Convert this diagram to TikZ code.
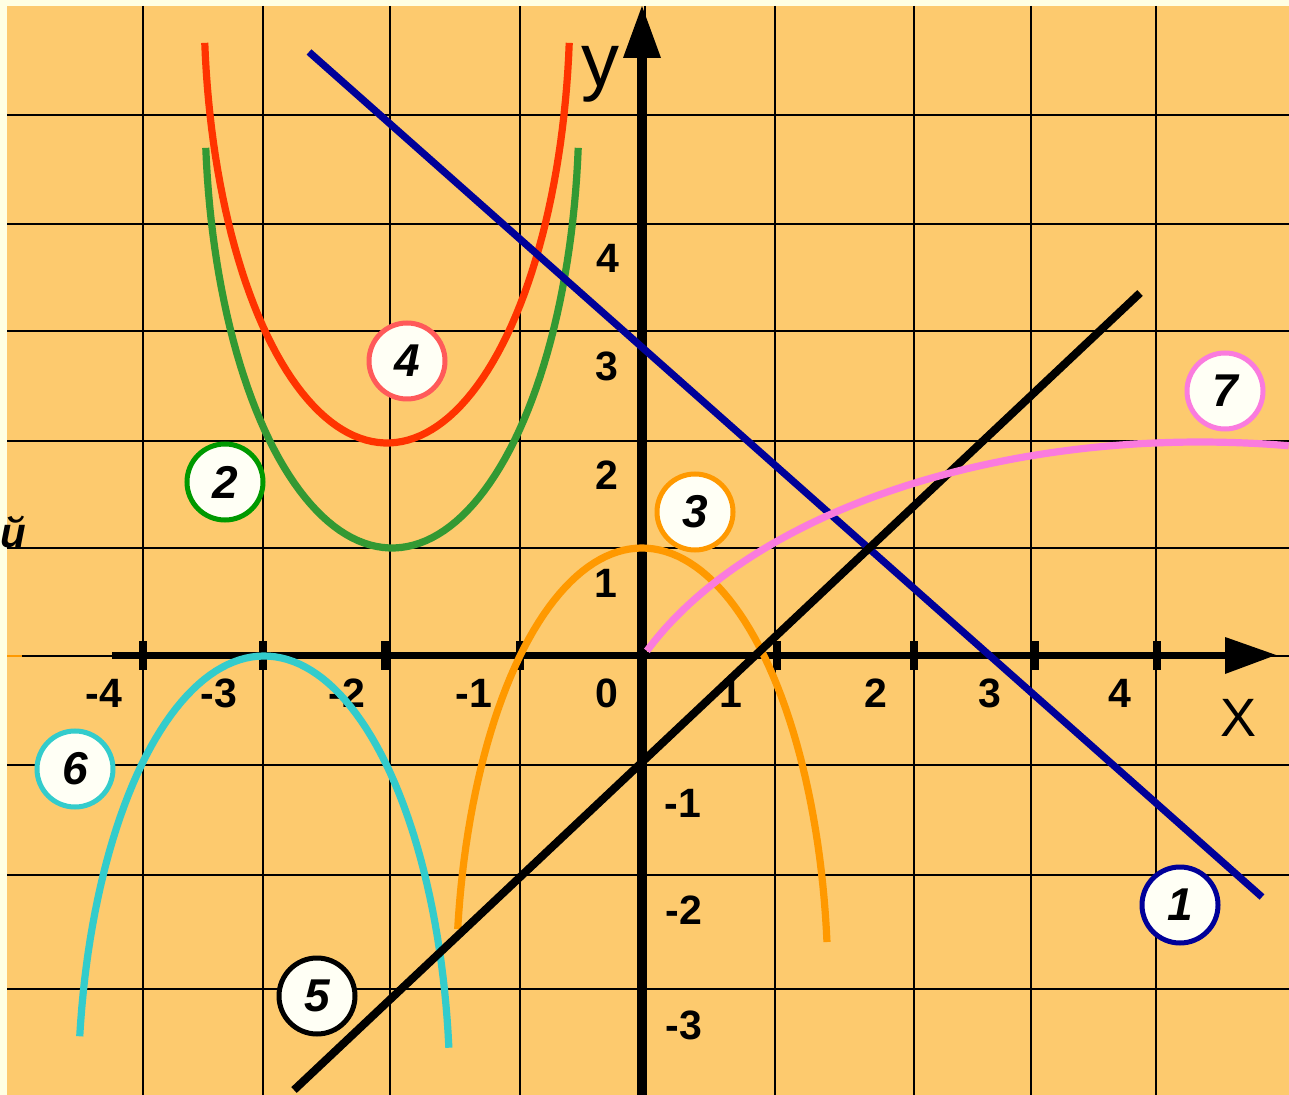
\documentclass[tikz,border=0pt]{standalone}
\usepackage{fontspec}
\setmainfont{Liberation Sans}
\definecolor{cream}{HTML}{FFFFE3}
\definecolor{panel}{HTML}{FDCA6E}
\definecolor{navyc}{HTML}{000099}
\definecolor{redc}{HTML}{FF3300}
\definecolor{greenc}{HTML}{339933}
\definecolor{greenb}{HTML}{009900}
\definecolor{orangec}{HTML}{FF9900}
\definecolor{cyanc}{HTML}{33CCCC}
\definecolor{pinkc}{HTML}{FA7BDE}
\definecolor{redb}{HTML}{FF5A5A}
\definecolor{circfill}{HTML}{FFFFF5}
\begin{document}
\begin{tikzpicture}[x=0.5pt,y=-0.5pt,
  gridline/.style={black, line width=1.3pt},
  curve/.style={line width=3.6pt},
  axlab/.style={inner sep=0pt, font=\fontsize{20.5}{23}\selectfont\bfseries},
  tag/.style={circle, draw=#1, fill=circfill, line width=2.5pt, minimum size=38pt, inner sep=0pt, font=\fontsize{23}{26}\selectfont\bfseries\itshape},
  tickmark/.style={fill=black}]
\useasboundingbox (0,0) rectangle (1289,1095);
\fill[cream] (0,0) rectangle (1289,1095);
\fill[panel] (7,6) rectangle (1289,1095);
% grid
\foreach \gx in {143,263,390,520,645,775,914,1031,1156}
  \draw[gridline] (\gx,6) -- (\gx,1095);
\foreach \gy in {115,224,331,441,548,765,875,989}
  \draw[gridline] (7,\gy) -- (1289,\gy);
\draw[gridline] (22,656) -- (1289,656);
\draw[orangec, line width=1.3pt] (7,656) -- (22,656);
% cyrillic remnant
\node[anchor=base west, inner sep=0pt, font=\fontsize{21}{24}\selectfont\bfseries\itshape] (cyr) at (0,548) {й};
% axis labels
\node[axlab] (xm4) at (104,693) {-4};
\node[axlab] (xm3) at (219,693) {-3};
\node[axlab] (xm2) at (347,693) {-2};
\node[axlab] (xm1) at (474,693) {-1};
\node[axlab] (x0) at (607,693) {0};
\node[axlab] (x1) at (731,693) {1};
\node[axlab] (x2) at (876,693) {2};
\node[axlab] (x3) at (990,693) {3};
\node[axlab] (x4) at (1120,693) {4};
\node[axlab] (y4) at (608,258) {4};
\node[axlab] (y3) at (607,366) {3};
\node[axlab] (y2) at (607,475) {2};
\node[axlab] (y1) at (606,583) {1};
\node[axlab] (ym1) at (683,803) {-1};
\node[axlab] (ym2) at (684,910) {-2};
\node[axlab] (ym3) at (684,1025) {-3};
\node[inner sep=0pt, font=\fontsize{38}{40}\selectfont] (ylab) at (600,74) {y};
\node[inner sep=0pt, font=\fontsize{27}{30}\selectfont] (xlab) at (1238,718) {X};
% axes
\coordinate (xstart) at (112,655);
\coordinate (xend) at (1226,655);
\coordinate (ystart) at (642,1095);
\coordinate (yend) at (642,56);
\draw[black, line width=3.5pt] (xstart) -- (xend);
\draw[black, line width=4.8pt] (ystart) -- (yend);
\fill[black] (1276,655) -- (1225,637) -- (1225,674) -- cycle;
\fill[black] (642,6) -- (623,58) -- (661,58) -- cycle;
\foreach \tx in {143,263,385,520,777,914,1035,1157}
  \fill[tickmark] (\tx-4,641) rectangle (\tx+4,670);
% curves
\draw[greenc, curve] plot[domain=-84.8:84.8, samples=90, variable=\t] ({392+187*sin(\t)}, {548-440*(1-cos(\t))});
\draw[redc, curve] plot[domain=-84.8:84.8, samples=90, variable=\t] ({387+183*sin(\t)}, {443-440*(1-cos(\t))});
\coordinate (n1a) at (309,52);
\coordinate (n1b) at (1262,897);
\draw[navyc, curve] (n1a) -- (n1b);
\draw[orangec, curve] plot[domain=-82.3:84, samples=90, variable=\t] ({642+186*sin(\t)}, {548+440*(1-cos(\t))});
\draw[cyanc, curve] plot[domain=-82.2:83.7, samples=90, variable=\t] ({264+186*sin(\t)}, {656+440*(1-cos(\t))});
\coordinate (b5a) at (294,1090);
\coordinate (b5b) at (1140,293);
\draw[black, line width=4pt] (b5a) -- (b5b);
\draw[pinkc, curve] plot[domain=157.2:81.5, samples=90, variable=\t] ({1200+600*cos(\t)}, {783-341*sin(\t)});
% tags
\node[tag=navyc] (t1) at (1180,905) {1};
\node[tag=greenb] (t2) at (225,482) {2};
\node[tag=orangec] (t3) at (695,512) {3};
\node[tag=redb] (t4) at (407,361) {4};
\node[tag=black] (t5) at (317,996) {5};
\node[tag=cyanc] (t6) at (75,769) {6};
\node[tag=pinkc] (t7) at (1225,391) {7};
\end{tikzpicture}
\end{document}
